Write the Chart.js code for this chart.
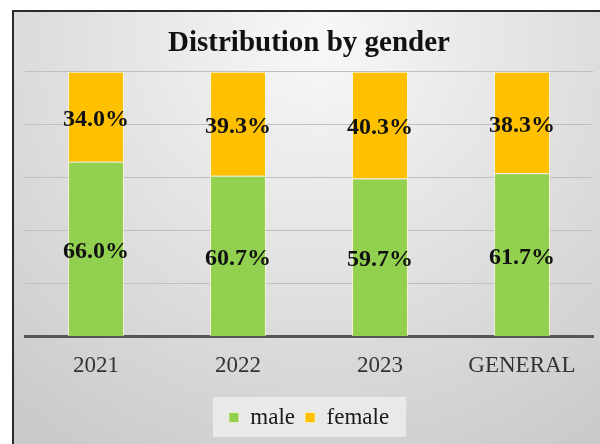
<!DOCTYPE html>
<html>
<head>
<meta charset="utf-8">
<script src="https://cdn.jsdelivr.net/npm/chart.js@4"></script>
<style>
  html, body { margin: 0; padding: 0; background: #fff; }
  #wrap { width: 600px; height: 444px; }
</style>
</head>
<body>
<div id="wrap"><canvas id="genderChart" width="600" height="444"></canvas></div>
<script>
// ----------------------------
// Data
// ----------------------------
const categories = ["2021", "2022", "2023", "GENERAL"];
const maleShare = [66.0, 60.7, 59.7, 61.7];
const femaleShare = [34.0, 39.3, 40.3, 38.3];
const yTicks = [0, 20, 40, 60, 80, 100];

const serif = "'Liberation Serif', 'Times New Roman', serif";

// ----------------------------
// Background, frame and legend panel
// ----------------------------
const backdrop = {
    id: "backdrop",
    beforeDraw(chart) {
        const c = chart.ctx;
        c.save();
        c.fillStyle = "#ffffff";
        c.fillRect(0, 0, chart.width, chart.height);

        const g = c.createRadialGradient(320, 40, 0, 320, 40, 470);
        g.addColorStop(0, "#f8f8f8");
        g.addColorStop(1, "#cbcbcb");
        c.fillStyle = g;
        c.fillRect(12, 10, chart.width - 12, chart.height - 10);

        c.strokeStyle = "#2b2b2b";
        c.lineWidth = 2;
        c.beginPath();
        c.moveTo(13, chart.height);
        c.lineTo(13, 11);
        c.lineTo(chart.width, 11);
        c.stroke();

        // lighter panel behind the legend
        const boxes = chart.legend.legendHitBoxes;
        if (boxes && boxes.length) {
            const first = boxes[0];
            const last = boxes[boxes.length - 1];
            c.fillStyle = "rgba(240,240,240,0.75)";
            c.fillRect(first.left - 16, first.top - 9, last.left + last.width - first.left + 33, first.height + 17);
        }
        c.restore();
    }
};

// ----------------------------
// Percent labels in the middle of each segment
// ----------------------------
const segmentLabels = {
    id: "segmentLabels",
    afterDatasetsDraw(chart) {
        const c = chart.ctx;
        c.save();
        c.font = "bold 24px " + serif;
        c.fillStyle = "#111111";
        c.textAlign = "center";
        c.textBaseline = "middle";
        chart.data.datasets.forEach((ds, i) => {
            chart.getDatasetMeta(i).data.forEach((bar, j) => {
                const yMid = (bar.y + bar.base) / 2;
                c.fillText(ds.data[j].toFixed(1) + "%", bar.x, yMid + 3);
            });
        });
        c.restore();
    }
};

const ctx = document.getElementById("genderChart").getContext("2d");

new Chart(ctx, {
    type: "bar",
    data: {
        labels: categories,
        datasets: [
            {
                label: "male",
                data: maleShare,
                backgroundColor: "#92D050",
                borderColor: "rgba(255,250,210,0.7)",
                borderWidth: 1,
                categoryPercentage: 1,
                barPercentage: 0.394
            },
            {
                label: "female",
                data: femaleShare,
                backgroundColor: "#FFC000",
                borderColor: "rgba(255,250,210,0.7)",
                borderWidth: 1,
                categoryPercentage: 1,
                barPercentage: 0.394
            }
        ]
    },
    options: {
        responsive: false,
        animation: false,
        layout: {
            padding: { left: 25, right: 7, top: 0, bottom: 5 }
        },
        plugins: {
            tooltip: { enabled: false },
            title: {
                display: true,
                text: "Distribution by gender",
                color: "#111111",
                font: { family: serif, size: 29, weight: "bold" },
                padding: { top: 26, bottom: 11 }
            },
            legend: {
                position: "bottom",
                labels: {
                    color: "#1a1a1a",
                    font: { family: serif, size: 23 },
                    boxWidth: 10,
                    boxHeight: 10,
                    padding: 10
                }
            }
        },
        scales: {
            x: {
                stacked: true,
                grid: { display: false, drawTicks: false },
                border: { color: "#555555", width: 3 },
                ticks: {
                    color: "#333333",
                    font: { family: serif, size: 23 },
                    padding: 16
                }
            },
            y: {
                stacked: true,
                min: 0,
                max: 100,
                afterBuildTicks(scale) {
                    scale.ticks = yTicks.map(v => ({ value: v }));
                },
                ticks: { display: false },
                grid: { color: "#bfbfbf", lineWidth: 1, drawTicks: false },
                border: { display: false }
            }
        }
    },
    plugins: [backdrop, segmentLabels]
});
</script>
</body>
</html>
